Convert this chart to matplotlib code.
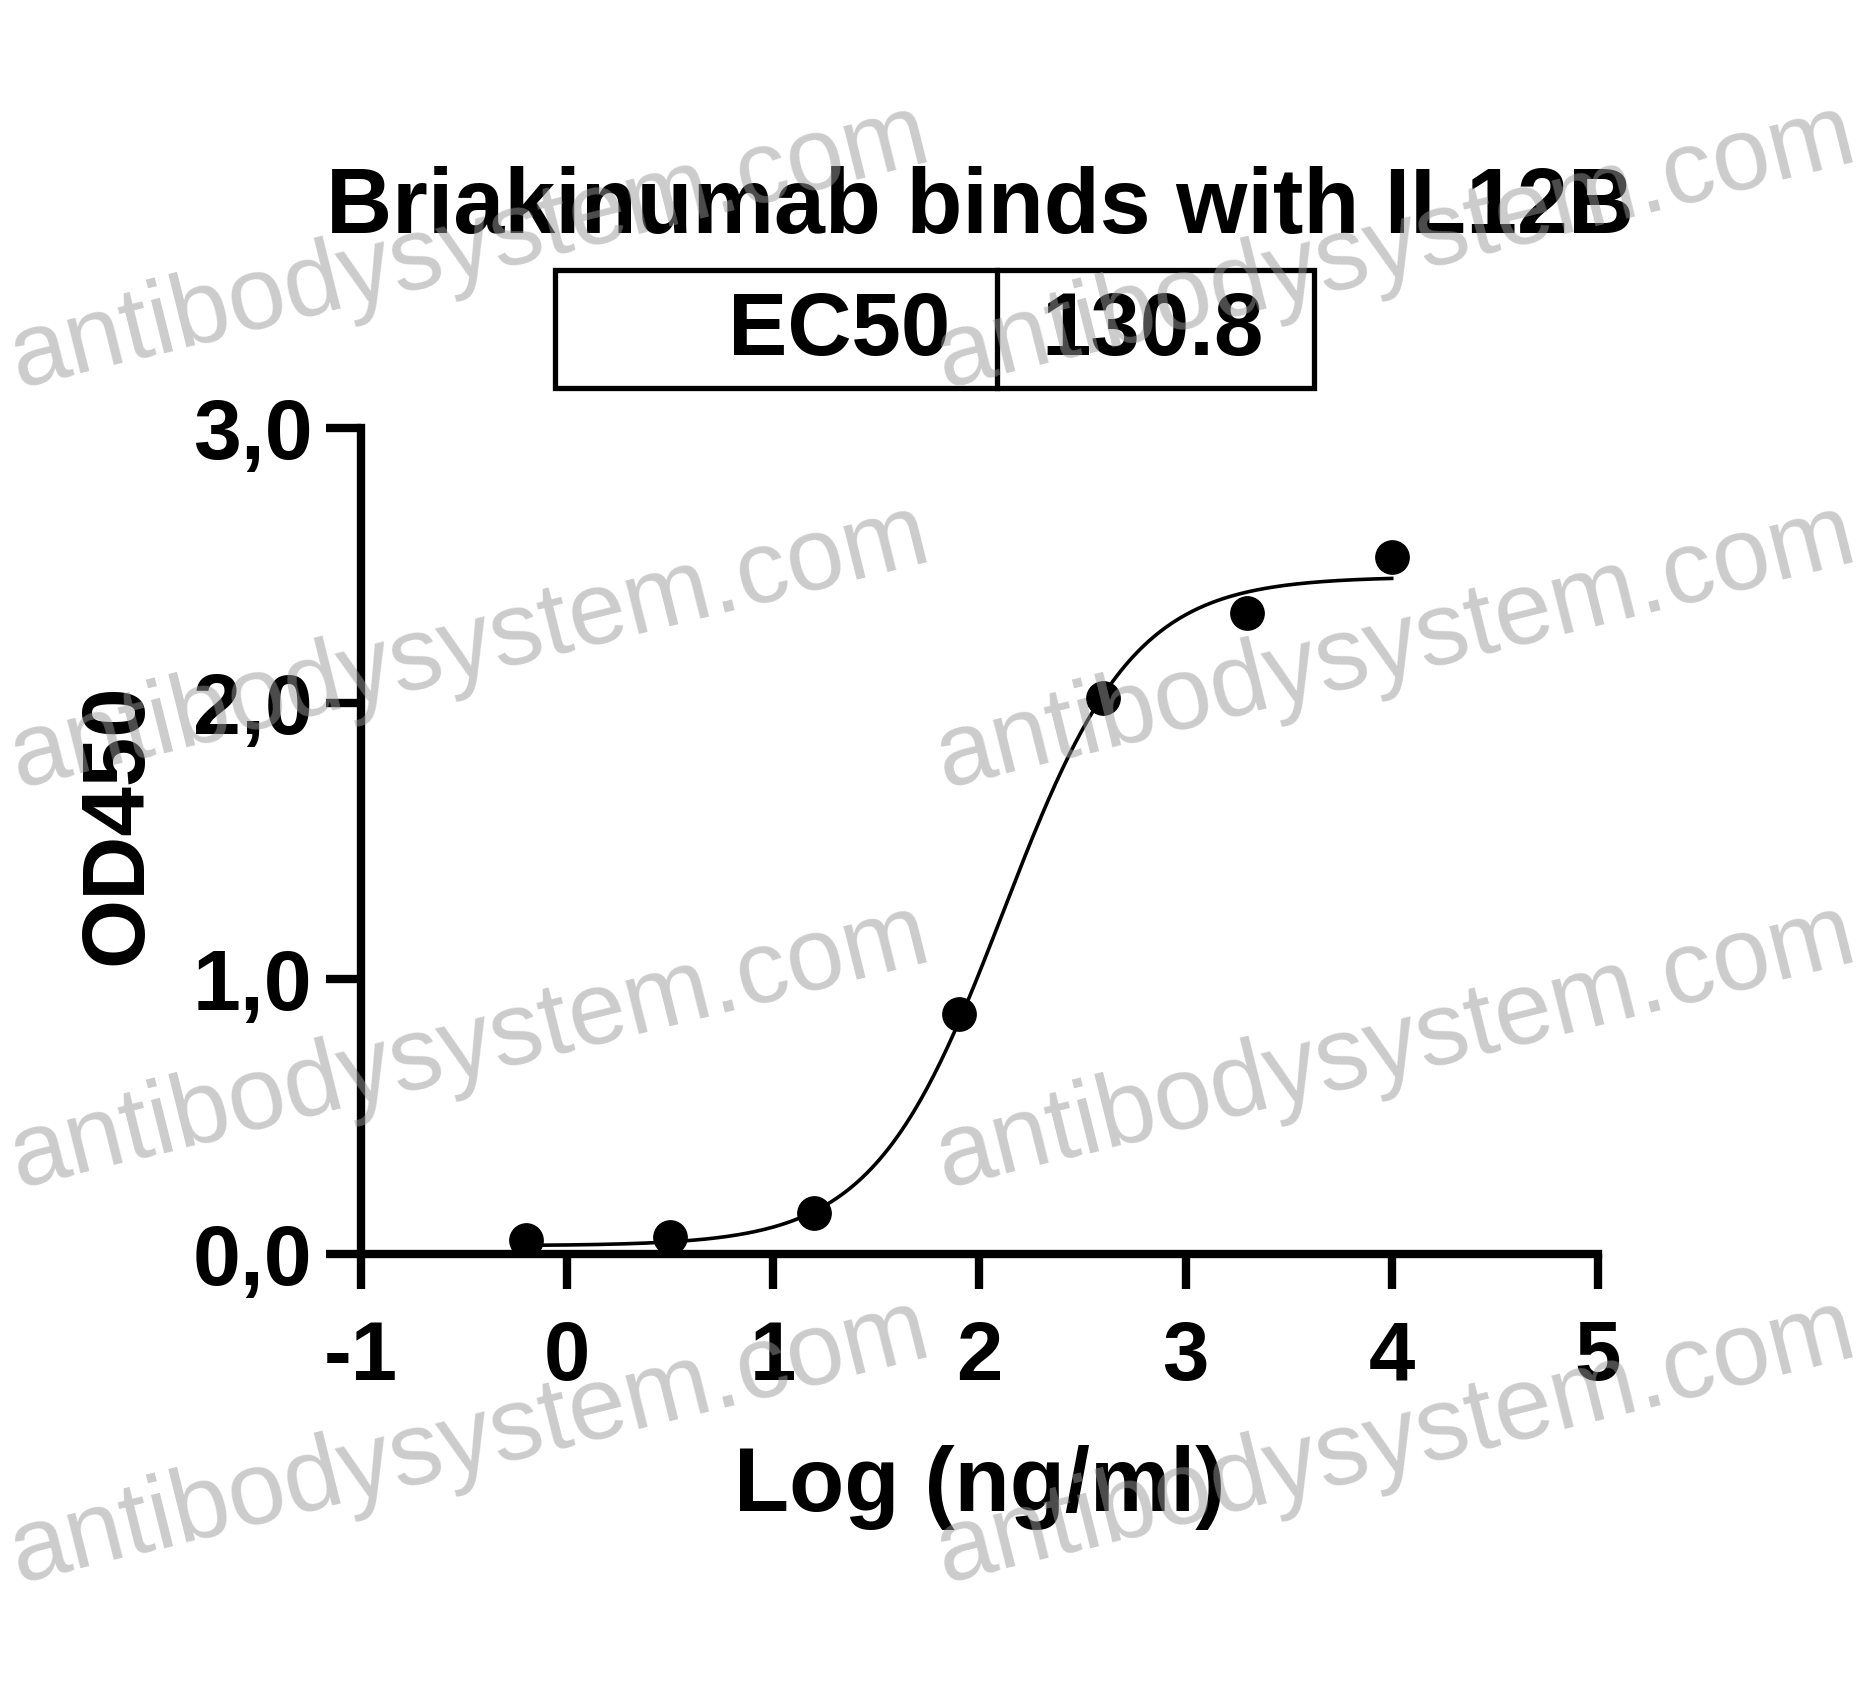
import numpy as np
import matplotlib
matplotlib.use("Agg")
import matplotlib.pyplot as plt
from matplotlib.patches import Rectangle

# data
log_conc = [-0.2, 0.5, 1.2, 1.9, 2.6, 3.3, 4.0]
od450 = [0.05, 0.06, 0.15, 0.87, 2.02, 2.33, 2.53]

# 4PL fit parameters (EC50 as reported on the chart)
ec50 = 130.8
bottom, top, hill = 0.03, 2.46, 1.38

x_ticks = [-1, 0, 1, 2, 3, 4, 5]
y_ticks = [0, 1, 2, 3]
y_tick_labels = ["0,0", "1,0", "2,0", "3,0"]

plt.rcParams['font.family'] = ['Liberation Sans', 'DejaVu Sans']

fig = plt.figure(figsize=(18.73, 16.88), dpi=100)
ax = fig.add_axes([0.1927, 0.2571, 0.6604, 0.4893])

# fitted curve
xf = np.linspace(min(log_conc), max(log_conc), 400)
yf = bottom + (top - bottom) / (1 + 10 ** ((np.log10(ec50) - xf) * hill))
ax.plot(xf, yf, color='black', lw=2.6, clip_on=False)
ax.plot(log_conc, od450, 'o', color='black', markersize=24, clip_on=False)

ax.set_xlim(-1, 5)
ax.set_ylim(0, 3)
ax.set_xticks(x_ticks)
ax.set_xticklabels([str(t) for t in x_ticks])
ax.set_yticks(y_ticks)
ax.set_yticklabels(y_tick_labels)

for s in ['top', 'right']:
    ax.spines[s].set_visible(False)
for s in ['left', 'bottom']:
    ax.spines[s].set_linewidth(6)
ax.tick_params(axis='x', width=6, length=25, pad=22, labelsize=60)
ax.tick_params(axis='y', width=6, length=25, pad=10, labelsize=62)
for lab in ax.get_xticklabels() + ax.get_yticklabels():
    lab.set_fontweight('bold')

# axis labels
fig.text(0.5232, 0.1049, "Log (ng/ml)", fontsize=65, fontweight='bold',
         ha='center', va='baseline')
fig.text(0.0753, 0.5118, "OD450", fontsize=64, fontweight='bold',
         rotation=90, rotation_mode='anchor', ha='center', va='baseline')

# title
fig.text(0.5232, 0.862, "Briakinumab binds with IL12B", fontsize=66,
         fontweight='bold', ha='center', va='baseline')

# EC50 table
x0, x1, xm = 555 / 1873, 1314 / 1873, 997 / 1873
y0, y1 = 1 - 388 / 1688, 1 - 270 / 1688
fig.patches.append(Rectangle((x0, y0), x1 - x0, y1 - y0, fill=False,
                             lw=3.8, ec='black', transform=fig.transFigure))
fig.add_artist(plt.Line2D([xm, xm], [y0, y1], lw=3.8, color='black',
                          transform=fig.transFigure))
fig.text(0.5072, 0.7897, "EC50", fontsize=64, fontweight='bold',
         ha='right', va='baseline')
fig.text(0.6156, 0.7897, "%.1f" % ec50, fontsize=64, fontweight='bold',
         ha='center', va='baseline')

# watermark
wm_x = [18 / 1873, 944 / 1873]
wm_y = [388, 788, 1188, 1583]
for wx in wm_x:
    for wy in wm_y:
        fig.text(wx, 1 - wy / 1688, "antibodysystem.com", fontsize=74.5,
                 color=(0.6, 0.6, 0.6), alpha=0.5, rotation=14,
                 rotation_mode='anchor', ha='left', va='baseline', zorder=10)

fig.savefig("out.png", dpi=100)
